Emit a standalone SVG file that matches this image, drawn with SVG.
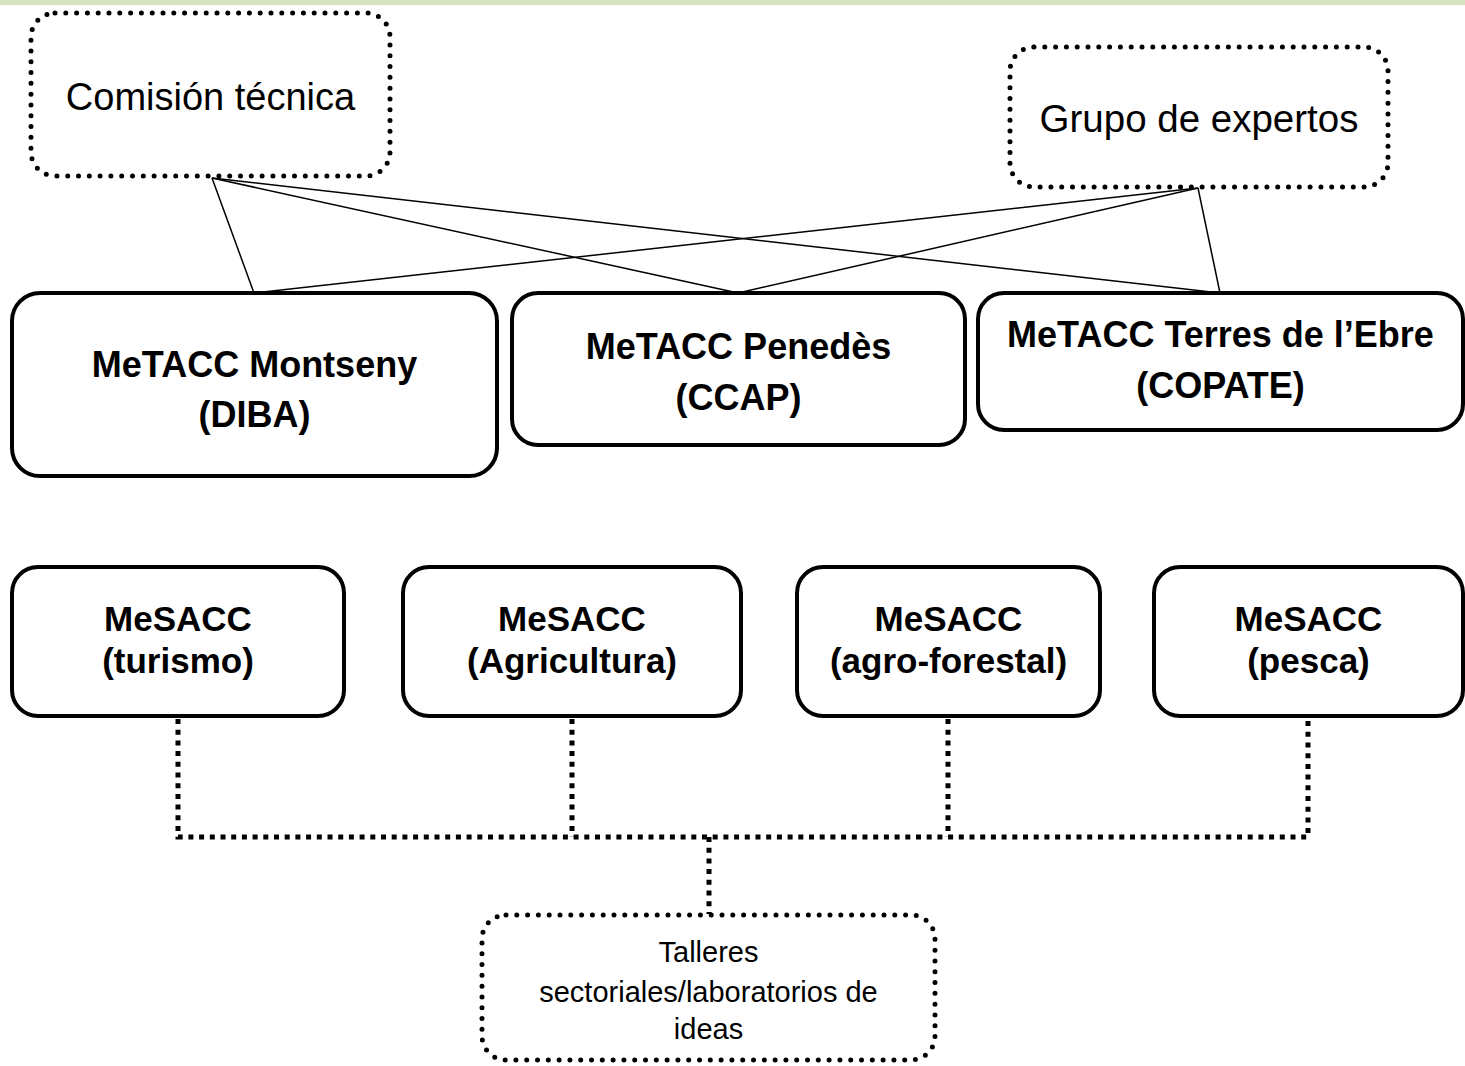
<svg xmlns="http://www.w3.org/2000/svg" width="1465" height="1066" viewBox="0 0 1465 1066">
  <style>
    .solid { fill: #ffffff; stroke: #000000; stroke-width: 4; }
    .dotbox { fill: #ffffff; stroke: #000000; stroke-width: 5; stroke-dasharray: 0 10.8; stroke-linecap: round; }
    .thin { fill: none; stroke: #000000; stroke-width: 1.5; }
    .sq { fill: none; stroke: #000000; stroke-width: 5; stroke-dasharray: 5 5.7; }
    .bold { font-family: "Liberation Sans", Arial, sans-serif; font-weight: bold; fill: #000000; text-anchor: middle; }
    .reg { font-family: "Liberation Sans", Arial, sans-serif; fill: #000000; text-anchor: middle; }
  </style>
  <rect x="0" y="0" width="1465" height="1066" fill="#ffffff"/>
  <rect x="0" y="0" width="1465" height="5" fill="#D7E4BD"/>

  <g id="connectors">
    <line class="thin" x1="212" y1="178" x2="254" y2="293"/>
    <line class="thin" x1="212" y1="178" x2="738" y2="293"/>
    <line class="thin" x1="212" y1="178" x2="1220" y2="293"/>
    <line class="thin" x1="1198" y1="188" x2="254" y2="293"/>
    <line class="thin" x1="1198" y1="188" x2="738" y2="293"/>
    <line class="thin" x1="1198" y1="188" x2="1220" y2="293"/>
    <path class="sq" d="M178 719 V837 H1308 V719"/>
    <path class="sq" d="M572 719 V837"/>
    <path class="sq" d="M948 719 V837"/>
    <path class="sq" d="M709 837 V914"/>
  </g>

  <g id="comision">
    <rect class="dotbox" x="31" y="13" width="359" height="163" rx="24"/>
    <text class="reg" x="210.5" y="110" font-size="38">Comisión técnica</text>
  </g>
  <g id="grupo">
    <rect class="dotbox" x="1010" y="47" width="378" height="140" rx="24"/>
    <text class="reg" x="1199" y="132" font-size="38.5">Grupo de expertos</text>
  </g>

  <g id="montseny">
    <rect class="solid" x="12" y="293" width="485" height="183" rx="28"/>
    <text class="bold" x="254.5" y="377" font-size="36">MeTACC Montseny</text>
    <text class="bold" x="254.5" y="427" font-size="36">(DIBA)</text>
  </g>
  <g id="penedes">
    <rect class="solid" x="512" y="293" width="453" height="152" rx="26"/>
    <text class="bold" x="738.5" y="359" font-size="36">MeTACC Penedès</text>
    <text class="bold" x="738.5" y="410" font-size="36">(CCAP)</text>
  </g>
  <g id="terres">
    <rect class="solid" x="978" y="293" width="485" height="137" rx="26"/>
    <text class="bold" x="1220.5" y="347" font-size="36">MeTACC Terres de l’Ebre</text>
    <text class="bold" x="1220.5" y="398" font-size="36">(COPATE)</text>
  </g>

  <g id="turismo">
    <rect class="solid" x="12" y="567" width="332" height="149" rx="26"/>
    <text class="bold" x="178" y="631" font-size="35">MeSACC</text>
    <text class="bold" x="178" y="673" font-size="35">(turismo)</text>
  </g>
  <g id="agricultura">
    <rect class="solid" x="403" y="567" width="338" height="149" rx="26"/>
    <text class="bold" x="572" y="631" font-size="35">MeSACC</text>
    <text class="bold" x="572" y="673" font-size="35">(Agricultura)</text>
  </g>
  <g id="agroforestal">
    <rect class="solid" x="797" y="567" width="303" height="149" rx="26"/>
    <text class="bold" x="948.5" y="631" font-size="35">MeSACC</text>
    <text class="bold" x="948.5" y="673" font-size="35">(agro-forestal)</text>
  </g>
  <g id="pesca">
    <rect class="solid" x="1154" y="567" width="309" height="149" rx="26"/>
    <text class="bold" x="1308.5" y="631" font-size="35">MeSACC</text>
    <text class="bold" x="1308.5" y="673" font-size="35">(pesca)</text>
  </g>

  <g id="talleres">
    <rect class="dotbox" x="482" y="915" width="453" height="145" rx="24"/>
    <text class="reg" x="708.5" y="962" font-size="29">Talleres</text>
    <text class="reg" x="708.5" y="1002" font-size="29">sectoriales/laboratorios de</text>
    <text class="reg" x="708.5" y="1039" font-size="29">ideas</text>
  </g>
</svg>
